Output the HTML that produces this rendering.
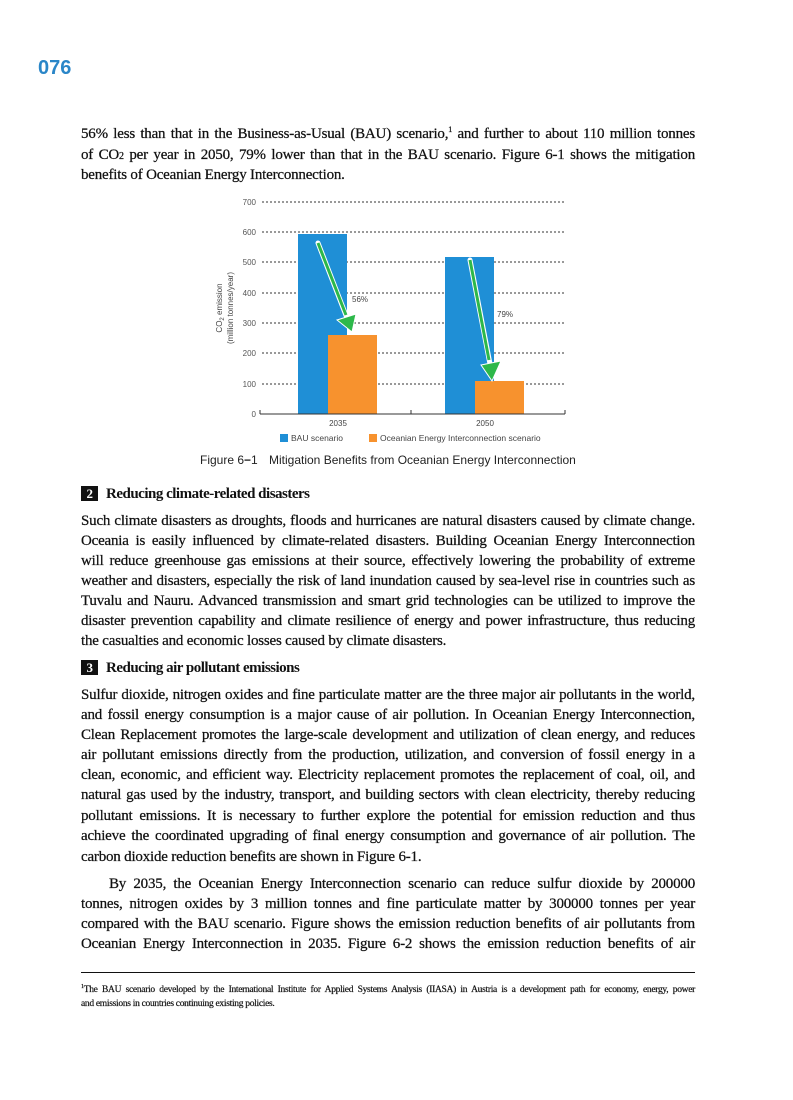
<!DOCTYPE html>
<html><head><meta charset="utf-8"><style>
body{margin:0;width:793px;height:1100px;background:#fff;position:relative;overflow:hidden;font-family:"Liberation Serif",serif;color:#111}
.l{position:absolute;left:81px;width:614px;font-size:15px;line-height:20px;height:20px;letter-spacing:-0.2px;text-align:justify;text-align-last:justify;white-space:nowrap;overflow:visible;-webkit-text-stroke:0.25px #111}
.e{text-align-last:left}
.h{position:absolute;left:81px;font-size:15px;font-weight:bold;letter-spacing:-0.5px;line-height:20px}
.h b{display:inline-block;background:#111;color:#fff;width:17px;height:15px;line-height:15px;text-align:center;margin-right:8px;font-size:13px}
.fn{position:absolute;left:81px;width:614px;font-size:9.5px;line-height:14px;letter-spacing:-0.3px;text-align:justify;text-align-last:justify;white-space:nowrap;-webkit-text-stroke:0.2px #111}
</style></head><body>
<div style="position:absolute;left:38px;top:57px;font-family:'Liberation Sans',sans-serif;font-weight:bold;font-size:20px;color:#2a86c8">076</div>

<div class="l" style="top:124px">56% less than that in the Business-as-Usual (BAU) scenario,<sup style="font-size:8px;line-height:0">1</sup> and further to about 110 million tonnes</div>
<div class="l" style="top:145px">of CO<span style="font-size:10px">2</span> per year in 2050, 79% lower than that in the BAU scenario. Figure 6-1 shows the mitigation</div>
<div class="l e" style="top:165px">benefits of Oceanian Energy Interconnection.</div>

<svg style="position:absolute;left:0;top:0" width="793" height="480" font-family="Liberation Sans, sans-serif">
<g stroke="#333" stroke-width="1" stroke-dasharray="2,2">
<line x1="262" x2="565" y1="202" y2="202"/><line x1="262" x2="565" y1="232" y2="232"/><line x1="262" x2="565" y1="262" y2="262"/><line x1="262" x2="565" y1="293" y2="293"/><line x1="262" x2="565" y1="323" y2="323"/><line x1="262" x2="565" y1="353" y2="353"/><line x1="262" x2="565" y1="384" y2="384"/>
</g>
<g font-size="8" fill="#555" text-anchor="end">
<text x="256" y="205">700</text><text x="256" y="235">600</text><text x="256" y="265">500</text><text x="256" y="296">400</text><text x="256" y="326">300</text><text x="256" y="356">200</text><text x="256" y="387">100</text><text x="256" y="417">0</text>
</g>
<rect x="298" y="234" width="49" height="180" fill="#1f8fd6"/>
<rect x="328" y="335" width="49" height="79" fill="#f7922e"/>
<rect x="445" y="257" width="49" height="157" fill="#1f8fd6"/>
<rect x="475" y="381" width="49" height="33" fill="#f7922e"/>
<line x1="260" x2="565" y1="414" y2="414" stroke="#333"/>
<line x1="260" x2="260" y1="410" y2="414" stroke="#333"/><line x1="411" x2="411" y1="410" y2="414" stroke="#333"/><line x1="565" x2="565" y1="410" y2="414" stroke="#333"/>
<g stroke="#fff" stroke-width="5" stroke-linecap="round"><line x1="318" y1="243" x2="347" y2="318"/><line x1="470" y1="260" x2="490" y2="364"/></g>
<g stroke="#2db84a" stroke-width="3"><line x1="318" y1="243" x2="346" y2="315"/><line x1="470" y1="260" x2="489" y2="360"/></g>
<polygon points="337,320 356,314 352,332" fill="#2db84a" stroke="#fff" stroke-width="1"/>
<polygon points="481,365 501,361 492,381" fill="#2db84a" stroke="#fff" stroke-width="1"/>
<text x="352" y="302" font-size="8" fill="#444">56%</text>
<text x="497" y="317" font-size="8" fill="#444">79%</text>
<g font-size="8" fill="#444" text-anchor="middle"><text x="338" y="426">2035</text><text x="485" y="426">2050</text></g>
<text transform="translate(222,308) rotate(-90)" font-size="8" fill="#444" text-anchor="middle">CO<tspan font-size="6" dy="2">2</tspan><tspan dy="-2"> emission</tspan></text>
<text transform="translate(233,308) rotate(-90)" font-size="8" fill="#444" text-anchor="middle">(million tonnes/year)</text>
<rect x="280" y="434" width="8" height="8" fill="#1f8fd6"/><text x="291" y="441" font-size="8.5" fill="#444">BAU scenario</text>
<rect x="369" y="434" width="8" height="8" fill="#f7922e"/><text x="380" y="441" font-size="8.5" fill="#444">Oceanian Energy Interconnection scenario</text>
<text x="200" y="464" font-size="12" fill="#222">Figure 6<tspan font-weight="bold">−</tspan>1</text>
<text x="269" y="464" font-size="12" fill="#222">Mitigation Benefits from Oceanian Energy Interconnection</text>
</svg>

<div class="h" style="top:484px"><b>2</b>Reducing climate-related disasters</div>
<div class="l" style="top:511px">Such climate disasters as droughts, floods and hurricanes are natural disasters caused by climate change.</div>
<div class="l" style="top:531px">Oceania is easily influenced by climate-related disasters. Building Oceanian Energy Interconnection</div>
<div class="l" style="top:551px">will reduce greenhouse gas emissions at their source, effectively lowering the probability of extreme</div>
<div class="l" style="top:571px">weather and disasters, especially the risk of land inundation caused by sea-level rise in countries such as</div>
<div class="l" style="top:591px">Tuvalu and Nauru. Advanced transmission and smart grid technologies can be utilized to improve the</div>
<div class="l" style="top:611px">disaster prevention capability and climate resilience of energy and power infrastructure, thus reducing</div>
<div class="l e" style="top:631px">the casualties and economic losses caused by climate disasters.</div>

<div class="h" style="top:658px"><b>3</b>Reducing air pollutant emissions</div>
<div class="l" style="top:685px">Sulfur dioxide, nitrogen oxides and fine particulate matter are the three major air pollutants in the world,</div>
<div class="l" style="top:705px">and fossil energy consumption is a major cause of air pollution. In Oceanian Energy Interconnection,</div>
<div class="l" style="top:725px">Clean Replacement promotes the large-scale development and utilization of clean energy, and reduces</div>
<div class="l" style="top:745px">air pollutant emissions directly from the production, utilization, and conversion of fossil energy in a</div>
<div class="l" style="top:765px">clean, economic, and efficient way. Electricity replacement promotes the replacement of coal, oil, and</div>
<div class="l" style="top:785px">natural gas used by the industry, transport, and building sectors with clean electricity, thereby reducing</div>
<div class="l" style="top:806px">pollutant emissions. It is necessary to further explore the potential for emission reduction and thus</div>
<div class="l" style="top:826px">achieve the coordinated upgrading of final energy consumption and governance of air pollution. The</div>
<div class="l e" style="top:847px">carbon dioxide reduction benefits are shown in Figure 6-1.</div>

<div class="l" style="top:874px;left:109px;width:586px">By 2035, the Oceanian Energy Interconnection scenario can reduce sulfur dioxide by 200000</div>
<div class="l" style="top:894px">tonnes, nitrogen oxides by 3 million tonnes and fine particulate matter by 300000 tonnes per year</div>
<div class="l" style="top:914px">compared with the BAU scenario. Figure shows the emission reduction benefits of air pollutants from</div>
<div class="l" style="top:934px">Oceanian Energy Interconnection in 2035. Figure 6-2 shows the emission reduction benefits of air</div>

<div style="position:absolute;left:81px;top:972px;width:614px;height:1px;background:#111"></div>
<div class="fn" style="top:983px"><sup style="font-size:6px;line-height:0">1</sup>The BAU scenario developed by the International Institute for Applied Systems Analysis (IIASA) in Austria is a development path for economy, energy, power</div>
<div class="fn" style="top:997px;text-align-last:left">and emissions in countries continuing existing policies.</div>
</body></html>
